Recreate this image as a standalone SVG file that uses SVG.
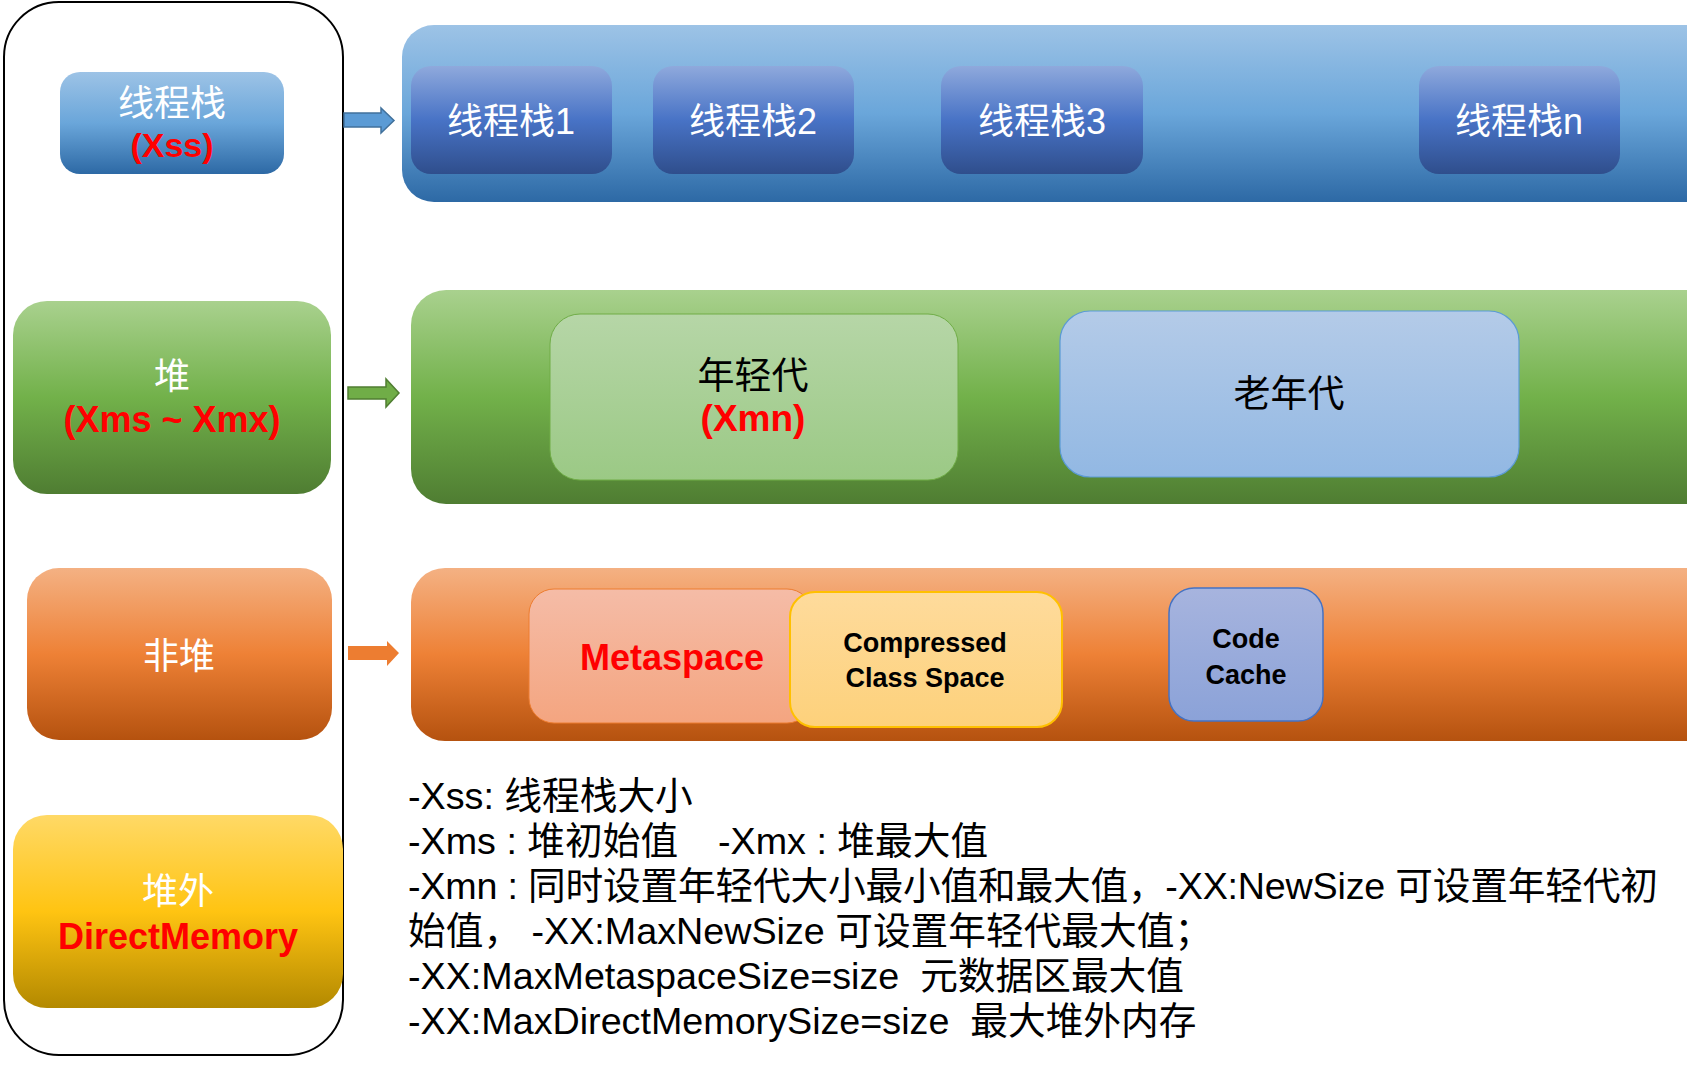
<svg xmlns="http://www.w3.org/2000/svg" width="1687" height="1066" viewBox="0 0 1687 1066">
<defs>
<linearGradient id="gBlue" x1="0" y1="0" x2="0" y2="1"><stop offset="0" stop-color="#9dc3e6"/><stop offset="0.5" stop-color="#6aa6da"/><stop offset="1" stop-color="#2d69a5"/></linearGradient>
<linearGradient id="gStack" x1="0" y1="0" x2="0" y2="1"><stop offset="0" stop-color="#8fa9dc"/><stop offset="0.5" stop-color="#4873c6"/><stop offset="1" stop-color="#2f4e8c"/></linearGradient>
<linearGradient id="gGreen" x1="0" y1="0" x2="0" y2="1"><stop offset="0" stop-color="#a9d18e"/><stop offset="0.5" stop-color="#72b14a"/><stop offset="1" stop-color="#4f7d32"/></linearGradient>
<linearGradient id="gOrange" x1="0" y1="0" x2="0" y2="1"><stop offset="0" stop-color="#f4b183"/><stop offset="0.5" stop-color="#ee8136"/><stop offset="1" stop-color="#b5520f"/></linearGradient>
<linearGradient id="gYellow" x1="0" y1="0" x2="0" y2="1"><stop offset="0" stop-color="#ffd966"/><stop offset="0.5" stop-color="#ffc412"/><stop offset="1" stop-color="#b38900"/></linearGradient>
<linearGradient id="gYoung" x1="0" y1="0" x2="0" y2="1"><stop offset="0" stop-color="#b6d6a7"/><stop offset="1" stop-color="#9bc985"/></linearGradient>
<linearGradient id="gOld" x1="0" y1="0" x2="0" y2="1"><stop offset="0" stop-color="#b4cbe8"/><stop offset="1" stop-color="#92b8e3"/></linearGradient>
<linearGradient id="gMeta" x1="0" y1="0" x2="0" y2="1"><stop offset="0" stop-color="#f5bca7"/><stop offset="1" stop-color="#f4a580"/></linearGradient>
<linearGradient id="gComp" x1="0" y1="0" x2="0" y2="1"><stop offset="0" stop-color="#fedb9c"/><stop offset="1" stop-color="#fdd17b"/></linearGradient>
<linearGradient id="gCode" x1="0" y1="0" x2="0" y2="1"><stop offset="0" stop-color="#a7b4de"/><stop offset="1" stop-color="#8ba2d8"/></linearGradient>
<style>
text{font-family:"Liberation Sans","Noto Sans CJK SC",sans-serif;text-anchor:middle}
.w{fill:#ffffff;font-size:36px}
.r{fill:#ff0000;font-weight:bold}
.k{fill:#000000}
.b{font-weight:bold;font-size:27px;fill:#000000}
.note{font-size:37.7px;fill:#000000;text-anchor:start}
</style>
</defs>
<rect width="1687" height="1066" fill="#ffffff"/>

<g id="left-column">
<rect x="4" y="2" width="339" height="1053" rx="55" ry="55" fill="#ffffff" stroke="#000000" stroke-width="2"/>
</g>

<g id="thread-stack">
<rect x="60" y="72" width="224" height="102" rx="20" fill="url(#gBlue)"/>
<text class="w" x="172" y="116">线程栈</text>
<text class="r" x="172" y="157" font-size="34">(Xss)</text>
</g>

<g id="heap">
<rect x="13" y="301" width="318" height="193" rx="34" fill="url(#gGreen)"/>
<text class="w" x="172" y="389">堆</text>
<text class="r" x="172" y="432" font-size="36">(Xms ~ Xmx)</text>
</g>

<g id="non-heap">
<rect x="27" y="568" width="305" height="172" rx="32" fill="url(#gOrange)"/>
<text class="w" x="179" y="669">非堆</text>
</g>

<g id="off-heap">
<rect x="13" y="815" width="330" height="193" rx="34" fill="url(#gYellow)"/>
<text class="w" x="178" y="904">堆外</text>
<text class="r" x="178" y="949" font-size="36">DirectMemory</text>
</g>

<g id="connectors">
<path d="M344,113 H381 V108 L394,120.5 L381,133 V127 H344 Z" fill="#5b9bd5" stroke="#41719c" stroke-width="1.5"/>
<path d="M348,387 H386 V379 L399,393 L386,407 V399 H348 Z" fill="#70ad47" stroke="#507e32" stroke-width="1.5"/>
<path d="M348,646 H387 V641 L399,653 L387,666 V660 H348 Z" fill="#ed7d31"/>
</g>

<g id="stack-area">
<rect x="402" y="25" width="1320" height="177" rx="32" fill="url(#gBlue)"/>
</g>
<g id="stack-1">
<rect x="411" y="66" width="201" height="108" rx="20" fill="url(#gStack)"/>
<text class="w" x="511" y="134">线程栈1</text>
</g>
<g id="stack-2">
<rect x="653" y="66" width="201" height="108" rx="20" fill="url(#gStack)"/>
<text class="w" x="753" y="134">线程栈2</text>
</g>
<g id="stack-3">
<rect x="941" y="66" width="202" height="108" rx="20" fill="url(#gStack)"/>
<text class="w" x="1042" y="134">线程栈3</text>
</g>
<g id="stack-n">
<rect x="1419" y="66" width="201" height="108" rx="20" fill="url(#gStack)"/>
<text class="w" x="1519" y="134">线程栈n</text>
</g>

<g id="heap-area">
<rect x="411" y="290" width="1320" height="214" rx="35" fill="url(#gGreen)"/>
</g>
<g id="young-gen">
<rect x="550" y="314" width="408" height="166" rx="30" fill="url(#gYoung)" stroke="#70ad47" stroke-width="1"/>
<text class="k" x="753" y="389" font-size="37">年轻代</text>
<text class="r" x="753" y="431" font-size="37">(Xmn)</text>
</g>
<g id="old-gen">
<rect x="1060" y="311" width="459" height="166" rx="30" fill="url(#gOld)" stroke="#5b9bd5" stroke-width="1.2"/>
<text class="k" x="1289" y="407" font-size="37">老年代</text>
</g>

<g id="non-heap-area">
<rect x="411" y="568" width="1320" height="173" rx="34" fill="url(#gOrange)"/>
</g>
<g id="metaspace">
<rect x="529" y="589" width="283" height="134" rx="25" fill="url(#gMeta)" stroke="#ed7d31" stroke-width="1"/>
<text class="r" x="672" y="670" font-size="36">Metaspace</text>
</g>
<g id="compressed-class-space">
<rect x="790" y="592" width="272" height="135" rx="25" fill="url(#gComp)" stroke="#ffc000" stroke-width="2"/>
<text class="b" x="925" y="652">Compressed</text>
<text class="b" x="925" y="687">Class Space</text>
</g>
<g id="code-cache">
<rect x="1169" y="588" width="154" height="133" rx="25" fill="url(#gCode)" stroke="#4472c4" stroke-width="1.5"/>
<text class="b" x="1246" y="648">Code</text>
<text class="b" x="1246" y="684">Cache</text>
</g>

<g id="notes">
<text class="note" x="408" y="809">-Xss: 线程栈大小</text>
<text class="note" x="408" y="854">-Xms : 堆初始值</text>
<text class="note" x="718" y="854">-Xmx : 堆最大值</text>
<text class="note" x="408" y="899" textLength="1250" lengthAdjust="spacing">-Xmn : 同时设置年轻代大小最小值和最大值，-XX:NewSize 可设置年轻代初</text>
<text class="note" x="408" y="944">始值， -XX:MaxNewSize 可设置年轻代最大值；</text>
<text class="note" x="408" y="989" xml:space="preserve">-XX:MaxMetaspaceSize=size  元数据区最大值</text>
<text class="note" x="408" y="1034" xml:space="preserve">-XX:MaxDirectMemorySize=size  最大堆外内存</text>
</g>
</svg>
